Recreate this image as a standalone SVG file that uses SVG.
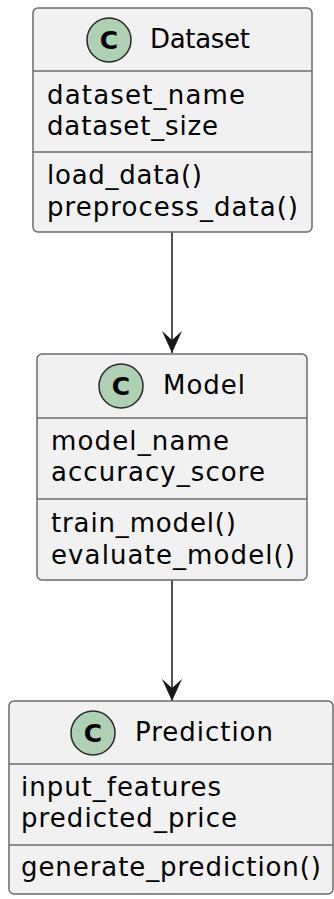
<svg xmlns="http://www.w3.org/2000/svg" width="334" height="899" viewBox="0 0 334 899">
  <style>
    .box { fill: #F1F1F1; stroke: #6b6b6b; stroke-width: 1.5; }
    .div { stroke: #6b6b6b; stroke-width: 1.5; }
    .spot { fill: #ADD1B2; stroke: #2a2a2a; stroke-width: 1.5; }
    .c { font-family: "DejaVu Sans", sans-serif; font-weight: bold; font-size: 25px; fill: #000; text-anchor: middle; }
    .t { font-family: "DejaVu Sans", sans-serif; font-size: 26px; fill: #000; }
    .edge { stroke: #181818; stroke-width: 1.5; fill: none; }
  </style>
  <defs>
    <marker id="ah" viewBox="0 0 22 20" refX="22" refY="10" markerWidth="22" markerHeight="20" markerUnits="userSpaceOnUse" orient="auto">
      <path d="M0,0 L22,10 L0,20 L9,10 Z" fill="#181818"/>
    </marker>
  </defs>

  <g id="connectors">
    <line class="edge" x1="172" y1="232" x2="172" y2="353" marker-end="url(#ah)"/>
    <line class="edge" x1="172" y1="580" x2="172" y2="701" marker-end="url(#ah)"/>
  </g>

  <g id="Dataset">
    <rect class="box" x="33" y="8" width="279" height="224" rx="5"/>
    <line class="div" x1="33" y1="71" x2="312" y2="71"/>
    <line class="div" x1="33" y1="152" x2="312" y2="152"/>
    <circle class="spot" cx="109" cy="40" r="22"/>
    <text class="c" x="109" y="49">C</text>
    <text class="t" x="150" y="48" textLength="100">Dataset</text>
    <text class="t" x="47" y="104" textLength="198">dataset_name</text>
    <text class="t" x="47" y="135" textLength="171">dataset_size</text>
    <text class="t" x="47" y="184" textLength="155">load_data()</text>
    <text class="t" x="47" y="216" textLength="251">preprocess_data()</text>
  </g>

  <g id="Model">
    <rect class="box" x="37" y="354" width="270" height="226" rx="5"/>
    <line class="div" x1="37" y1="418" x2="307" y2="418"/>
    <line class="div" x1="37" y1="499" x2="307" y2="499"/>
    <circle class="spot" cx="121" cy="386" r="22"/>
    <text class="c" x="121" y="395">C</text>
    <text class="t" x="163" y="394" textLength="82">Model</text>
    <text class="t" x="51" y="450" textLength="178">model_name</text>
    <text class="t" x="51" y="481" textLength="214">accuracy_score</text>
    <text class="t" x="51" y="532" textLength="185">train_model()</text>
    <text class="t" x="51" y="564" textLength="244">evaluate_model()</text>
  </g>

  <g id="Prediction">
    <rect class="box" x="9" y="701" width="324" height="193" rx="5"/>
    <line class="div" x1="9" y1="764" x2="333" y2="764"/>
    <line class="div" x1="9" y1="845" x2="333" y2="845"/>
    <circle class="spot" cx="93" cy="733" r="22"/>
    <text class="c" x="93" y="742">C</text>
    <text class="t" x="135" y="741" textLength="138">Prediction</text>
    <text class="t" x="21" y="796" textLength="200">input_features</text>
    <text class="t" x="21" y="827" textLength="216">predicted_price</text>
    <text class="t" x="21" y="876" textLength="300">generate_prediction()</text>
  </g>
</svg>
